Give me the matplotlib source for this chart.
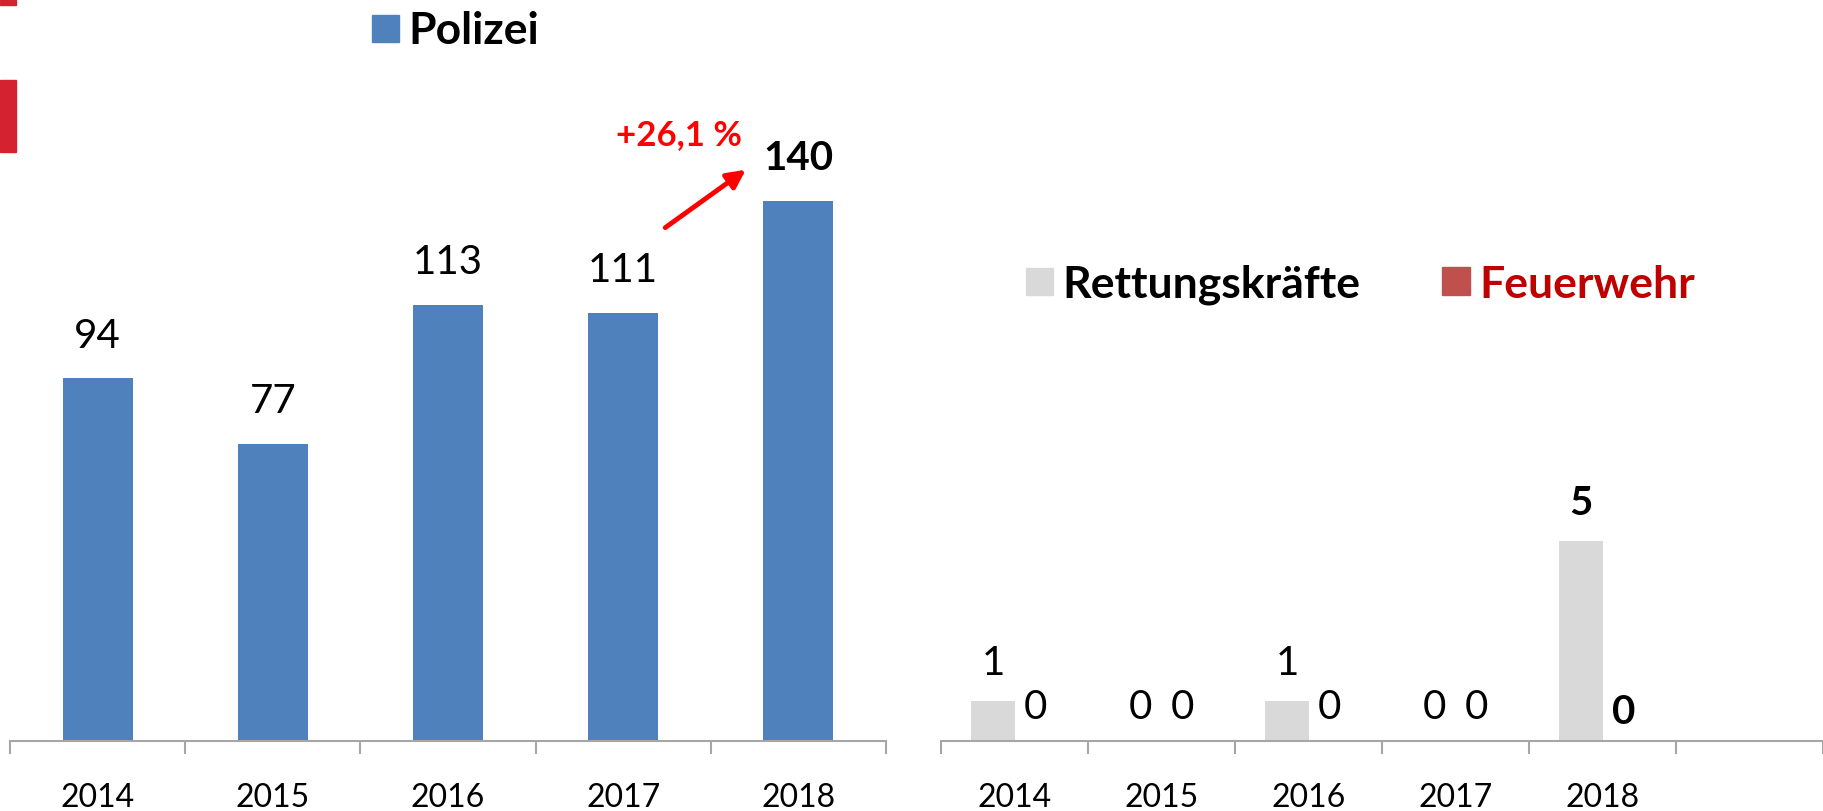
import matplotlib
matplotlib.use("Agg")
from matplotlib import pyplot as plt
import matplotlib.patches as mpatches

plt.rcParams['font.family'] = ['Lato', 'DejaVu Sans']

years = ['2014', '2015', '2016', '2017', '2018']
polizei = [94, 77, 113, 111, 140]
rettung = [1, 0, 1, 0, 5]
feuerwehr = [0, 0, 0, 0, 0]
change_label = '+26,1 %'

BLUE = '#4F81BD'
GREY = '#D9D9D9'
FW_RED = '#C0504D'
FW_TEXT = '#C00000'
AXIS = '#A6A6A6'

W, H = 1824, 811
fig = plt.figure(figsize=(W / 100, H / 100), dpi=100)


def px_axes(x0, x1, y_top, y_bottom):
    return fig.add_axes([x0 / W, 1 - y_bottom / H, (x1 - x0) / W, (y_bottom - y_top) / H])


def style_axis(ax, ncat):
    for s in ['top', 'right', 'left']:
        ax.spines[s].set_visible(False)
    ax.spines['bottom'].set_color(AXIS)
    ax.spines['bottom'].set_linewidth(1.5)
    ax.set_yticks([])
    ax.set_xlim(-0.5, ncat - 0.5)
    ax.set_xticks(range(len(years)))
    ax.set_xticklabels(years, fontsize=23)
    ax.tick_params(axis='x', which='major', length=0, pad=30)
    ax.set_xticks([i - 0.5 for i in range(ncat + 1)], minor=True)
    ax.tick_params(axis='x', which='minor', length=9, width=1.5, color=AXIS, direction='out')
    ax.patch.set_alpha(0)


# left chart: Polizei
ax1 = px_axes(10, 886, 0, 741)
style_axis(ax1, 5)
ax1.set_ylim(0, 741 / 3.86)
x = list(range(len(years)))
ax1.bar(x, polizei, width=0.4, color=BLUE, zorder=2)
for i, v in enumerate(polizei):
    last = i == len(polizei) - 1
    ax1.annotate(str(v), (i, v), xytext=(0, 17), textcoords='offset points',
                 ha='center', va='bottom', fontsize=29,
                 fontweight='bold' if last else 'normal', color='black')

# arrow + change label
ax1.annotate('', xy=(3.70, 148), xytext=(3.24, 133),
             arrowprops=dict(arrowstyle='-|>,head_length=1.1,head_width=0.55',
                             color='#FF0000', lw=3.5, shrinkA=0, shrinkB=0))
ax1.text(3.32, 157, change_label, color='#FF0000', fontsize=25, fontweight='bold',
         ha='center', va='center')

# right chart: Rettungskräfte / Feuerwehr
ax2 = px_axes(941, 1823, 0, 741)
style_axis(ax2, 6)
ax2.set_ylim(0, 741 / 40)
off = 0.145
bw = 0.3
ax2.bar([i - off for i in x], rettung, width=bw, color=GREY, zorder=2)
ax2.bar([i + off for i in x], feuerwehr, width=bw, color=FW_RED, zorder=2)
for i in x:
    last = i == len(x) - 1
    ax2.annotate(str(rettung[i]), (i - off, rettung[i]), xytext=(0, 14 if rettung[i] else 11),
                 textcoords='offset points', ha='center', va='bottom', fontsize=29,
                 fontweight='bold' if last else 'normal')
    ax2.annotate(str(feuerwehr[i]), (i + off, feuerwehr[i]), xytext=(0, 7 if last else 11),
                 textcoords='offset points', ha='center', va='bottom', fontsize=29,
                 fontweight='bold' if last else 'normal')

# legends drawn as figure patches and text
def legend_item(x0, y_c, size, color, label, tcolor):
    fig.patches.append(mpatches.Rectangle((x0 / W, 1 - (y_c + size / 2) / H), size / W, size / H,
                                          transform=fig.transFigure, color=color))
    fig.text((x0 + size + 9) / W, 1 - y_c / H, label, fontsize=32, fontweight='bold',
             color=tcolor, ha='left', va='center_baseline')

legend_item(372, 28, 27, BLUE, 'Polizei', 'black')
legend_item(1026, 281, 27, GREY, 'Rettungskräfte', 'black')
legend_item(1442, 281, 28, FW_RED, 'Feuerwehr', FW_TEXT)

# red decoration on the left edge
fig.patches.append(mpatches.Rectangle((0, 1 - 5 / H), 16 / W, 5 / H,
                                      transform=fig.transFigure, color='#D52231'))
fig.patches.append(mpatches.Rectangle((0, 1 - 152 / H), 16 / W, 72 / H,
                                      transform=fig.transFigure, color='#D52231'))

fig.savefig('out.png', dpi=100)
